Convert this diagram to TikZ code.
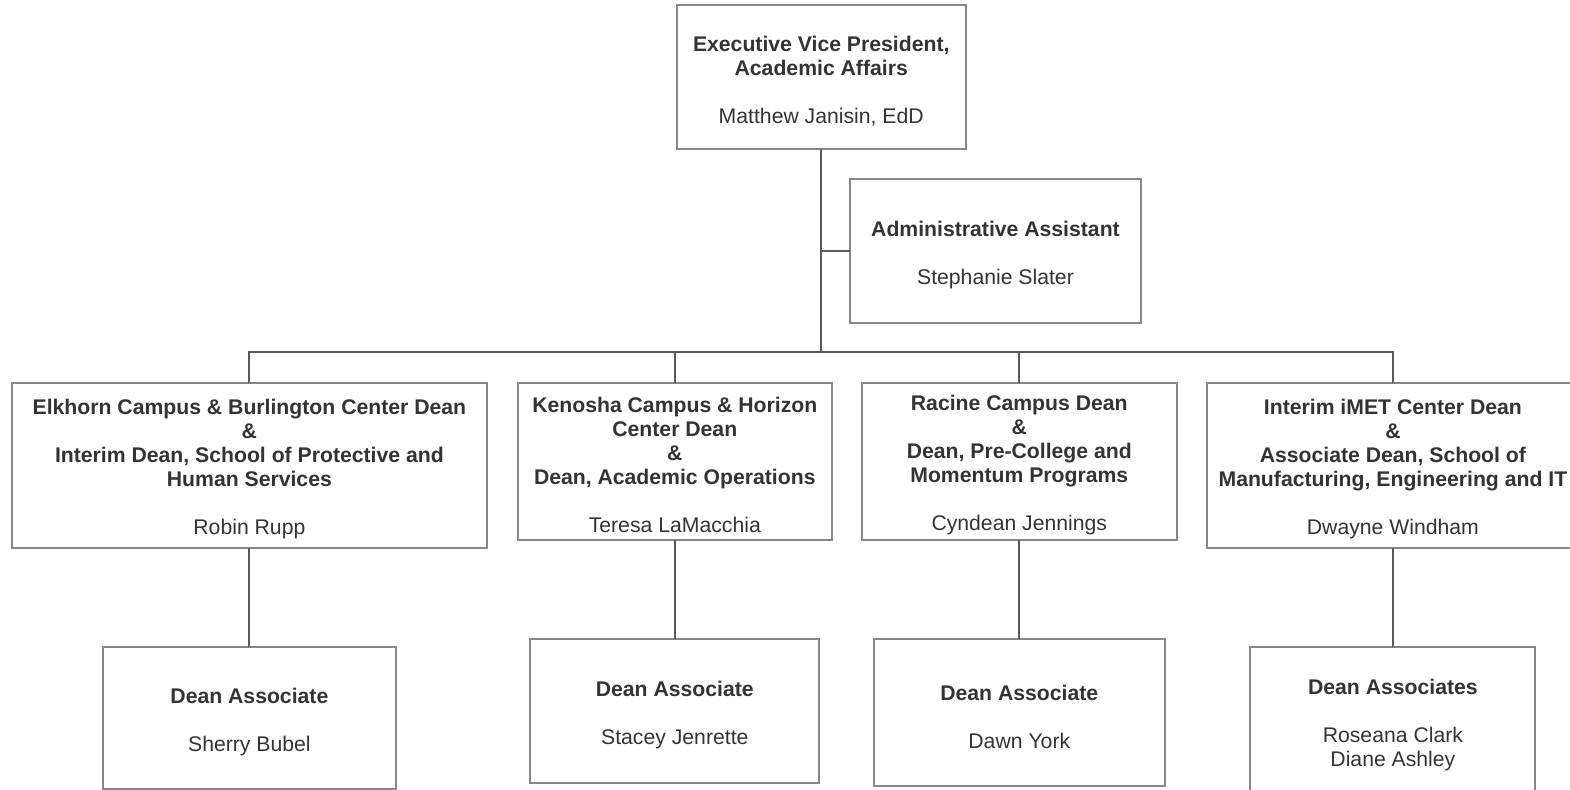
\documentclass[tikz,border=0pt]{standalone}
\usepackage{fontspec}
\setmainfont{Liberation Sans}
\definecolor{boxline}{RGB}{135,135,135}
\definecolor{wire}{RGB}{90,90,90}
\definecolor{ink}{RGB}{51,51,51}
\newcommand\headroom{\rule{0pt}{11.7pt}}
\begin{document}
\begin{tikzpicture}[x=0.5pt,y=-0.5pt,font=\fontsize{10.6}{12}\selectfont,line cap=rect,
	box/.style={draw=boxline,line width=1pt,align=center,inner sep=0pt,text=ink},
	link/.style={draw=wire,line width=1pt}]
	\useasboundingbox (0,0) rectangle (1570,790);
	% top of the chart
	\node[box,minimum width=144.75pt,minimum height=72pt] (evp) at (821.25,77)
		{\headroom\textbf{Executive Vice President,}\\\textbf{Academic Affairs}\\[12pt]Matthew Janisin, EdD};
	\node[box,minimum width=145.5pt,minimum height=72pt] (assistant) at (995.5,251)
		{\headroom\textbf{Administrative Assistant}\\[12pt]Stephanie Slater};
	% deans
	\node[box,minimum width=237.6pt,minimum height=82.8pt] (elkhorn) at (249.4,465.5)
		{\headroom\textbf{Elkhorn Campus \& Burlington Center Dean}\\\textbf{\&}\\\textbf{Interim Dean, School of Protective and}\\\textbf{Human Services}\\[12pt]Robin Rupp};
	\node[box,minimum width=157.2pt,minimum height=78.7pt] (kenosha) at (674.8,461.4)
		{\headroom\textbf{Kenosha Campus \& Horizon}\\\textbf{Center Dean}\\\textbf{\&}\\\textbf{Dean, Academic Operations}\\[12pt]Teresa LaMacchia};
	\node[box,minimum width=157.2pt,minimum height=78.7pt] (racine) at (1019.3,461.4)
		{\headroom\textbf{Racine Campus Dean}\\\textbf{\&}\\\textbf{Dean, Pre-College and}\\\textbf{Momentum Programs}\\[12pt]Cyndean Jennings};
	\node[box,minimum width=186.2pt,minimum height=82.8pt] (imet) at (1392.9,465.5)
		{\headroom\textbf{Interim iMET Center Dean}\\\textbf{\&}\\\textbf{Associate Dean, School of}\\\textbf{Manufacturing, Engineering and IT}\\[12pt]Dwayne Windham};
	% dean associates
	\node[box,minimum width=146.5pt,minimum height=71pt] (assocE) at (249.4,718)
		{\headroom\textbf{Dean Associate}\\[12pt]Sherry Bubel};
	\node[box,minimum width=144.6pt,minimum height=72pt] (assocK) at (674.8,711)
		{\headroom\textbf{Dean Associate}\\[12pt]Stacey Jenrette};
	\node[box,minimum width=145.3pt,minimum height=73.7pt] (assocR) at (1019.3,712.7)
		{\headroom\textbf{Dean Associate}\\[12pt]Dawn York};
	\node[box,minimum width=142.5pt,minimum height=74.5pt] (assocI) at (1392.9,721.5)
		{\headroom\textbf{Dean Associates}\\[12pt]Roseana Clark\\Diane Ashley};
	% lines
	\coordinate (bus) at (821.25,352);
	\draw[link] (evp.south) -- (bus);
	\draw[link] (assistant.west) -- (assistant.west -| evp.south);
	\draw[link] (elkhorn.north) |- (bus) -| (imet.north);
	\draw[link] (kenosha.north) -- (kenosha.north |- bus);
	\draw[link] (racine.north) -- (racine.north |- bus);
	\draw[link] (elkhorn.south) -- (assocE.north);
	\draw[link] (kenosha.south) -- (assocK.north);
	\draw[link] (racine.south) -- (assocR.north);
	\draw[link] (imet.south) -- (assocI.north);
\end{tikzpicture}
\end{document}
